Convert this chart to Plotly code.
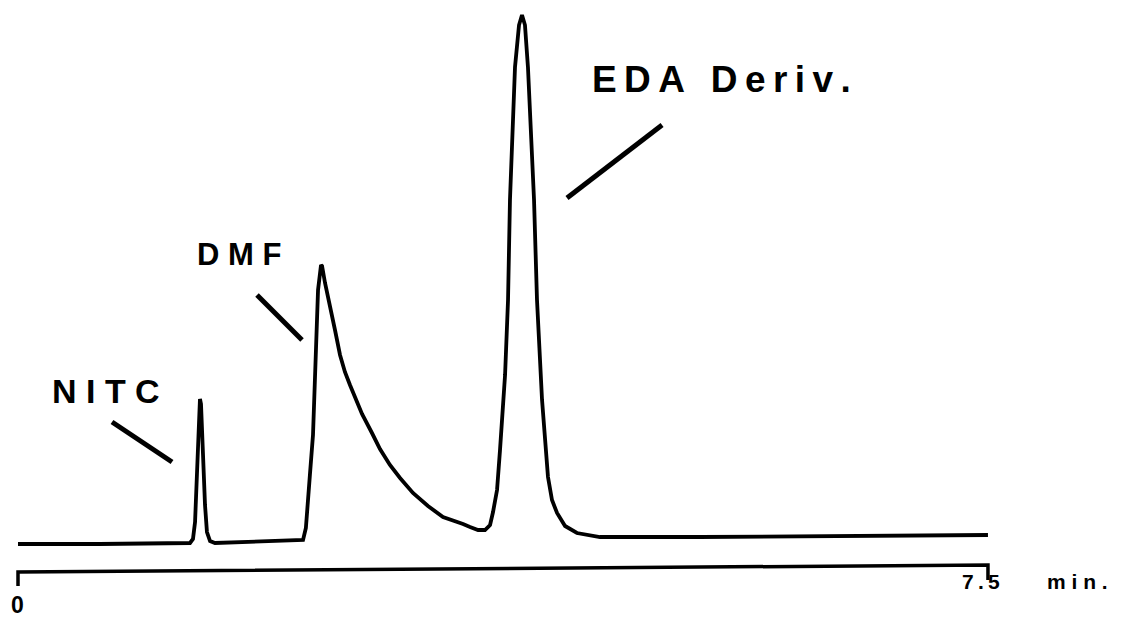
import plotly.graph_objects as go

# Chromatogram trace: retention time (min) vs detector response (arb. units)
time_min = [0.00, 0.63, 1.33, 1.353, 1.369, 1.384, 1.400, 1.407, 1.415, 1.430, 1.446, 1.461, 1.485, 1.523,
            1.794, 2.180, 2.204, 2.226, 2.242, 2.257, 2.281, 2.304, 2.320, 2.343, 2.351, 2.374, 2.412,
            2.451, 2.490, 2.528, 2.567, 2.613, 2.660, 2.737, 2.799, 2.876, 2.954, 3.054, 3.170, 3.286,
            3.379, 3.441, 3.495, 3.557, 3.611, 3.650, 3.673,
            3.704, 3.727, 3.750, 3.766, 3.789, 3.804, 3.843, 3.874, 3.897, 3.920, 3.943, 3.990, 4.013,
            4.052, 4.098, 4.129, 4.168, 4.230, 4.322, 4.500, 5.273, 6.047, 6.820, 7.500]
response = [0, 0, 1, 5, 22, 69, 132, 145, 140, 89, 39, 12, 3, 1,
            2, 3, 4, 16, 39, 69, 109, 189, 254, 279, 278, 261, 239,
            214, 189, 172, 159, 144, 130, 111, 95, 79, 66, 51, 38, 27,
            23, 20, 17, 14, 14, 19, 32,
            54, 94, 141, 169, 244, 344, 477, 519, 529, 519, 477, 344, 244,
            144, 67, 44, 31, 18, 11, 7, 7, 8, 9, 9]

# Peak labels and their leader lines
peak_label_text = ["N I T C", "D M F", "E\u2009D\u2009A\u2002\u2009D\u2009e\u2009r\u2009i\u2009v\u2009."]
label_t = [0.677, 1.705, 5.443]
label_s = [153, 290, 465]
label_size = [34, 31, 37]
leader_t = [[0.727, 1.191], [1.848, 2.196], [4.980, 4.245]]
leader_s = [[122, 82], [249, 204], [419, 346]]

# Time scale bar
scale_t = [0, 0, 7.5, 7.5]
scale_s = [-42, -28, -21, -36]
scale_labels = ["0", "7\u2009.\u20095", "m i n ."]
scale_label_t = [-0.005, 7.445, 8.19]
scale_label_s = [-60.5, -37, -37]
scale_label_size = [23, 21, 21]

fig = go.Figure()
fig.add_trace(go.Scatter(x=time_min, y=response, mode="lines",
                         line=dict(color="black", width=3.8), hoverinfo="skip"))
for lt, ls in zip(leader_t, leader_s):
    fig.add_trace(go.Scatter(x=lt, y=ls, mode="lines",
                             line=dict(color="black", width=5), hoverinfo="skip"))
fig.add_trace(go.Scatter(x=scale_t, y=scale_s, mode="lines",
                         line=dict(color="black", width=3.5), hoverinfo="skip"))

for txt, t, s, sz in zip(peak_label_text, label_t, label_s, label_size):
    fig.add_annotation(x=t, y=s, text="<b>" + txt + "</b>", showarrow=False, xanchor="center", yanchor="middle",
                       font=dict(family="Liberation Sans, Arial, sans-serif", size=sz, color="black"))
for txt, t, s, sz in zip(scale_labels, scale_label_t, scale_label_s, scale_label_size):
    fig.add_annotation(x=t, y=s, text="<b>" + txt + "</b>", showarrow=False, xanchor="center", yanchor="middle",
                       font=dict(family="Liberation Sans, Arial, sans-serif", size=sz, color="black"))

# page body has an 8px margin, so the figure is 8px smaller and the ranges compensate
fig.update_layout(
    width=1117, height=609,
    margin=dict(l=0, r=0, t=0, b=0),
    paper_bgcolor="white", plot_bgcolor="white",
    showlegend=False,
    xaxis=dict(range=[-0.0773, 8.5595], visible=False, fixedrange=True),
    yaxis=dict(range=[-73, 536], visible=False, fixedrange=True),
)

fig.write_html("out.html")
